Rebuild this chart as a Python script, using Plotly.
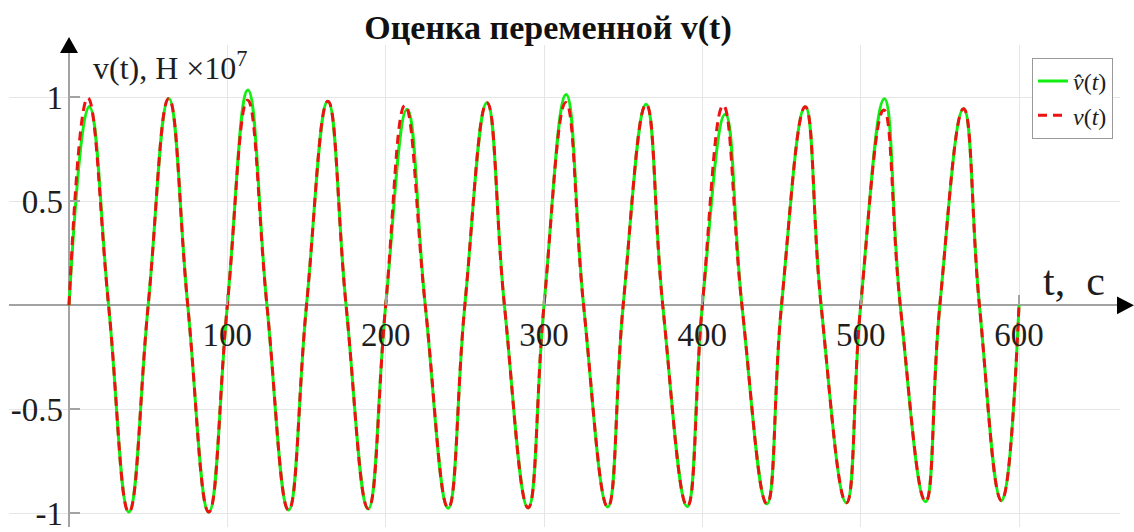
import plotly.graph_objects as go

# ---- data (t in s, v in units of 1e7 N) ----
zero_t = [0, 25, 50, 75, 100, 125, 150, 175, 200, 225, 250, 275, 300,
          325, 350, 375, 400, 425, 450, 475, 500, 525, 550, 575, 600]

peak_t_est = [12.7, 63.0, 113.0, 163.5, 213.5, 264.0, 314.0, 364.5, 414.5, 465.0, 515.0, 565.0]
peak_v_est = [0.957, 0.995, 1.036, 0.982, 0.943, 0.975, 1.014, 0.967, 0.919, 0.955, 0.994, 0.946]

peak_t_true = [11.8, 63.0, 112.8, 163.5, 212.2, 264.0, 313.8, 364.5, 413.2, 465.0, 514.6, 565.0]
peak_v_true = [0.998, 0.995, 0.987, 0.982, 0.962, 0.975, 0.976, 0.967, 0.962, 0.955, 0.940, 0.946]

trough_t = [37.8, 88.3, 138.7, 189.0, 239.5, 290.0, 340.3, 390.5, 440.8, 491.0, 541.0, 589.0]
trough_v_est = [-0.995, -0.995, -0.985, -0.980, -0.976, -0.975, -0.970, -0.968, -0.955, -0.950, -0.945, -0.940]
trough_v_true = [-0.995, -0.995, -0.985, -0.978, -0.975, -0.974, -0.970, -0.967, -0.955, -0.950, -0.944, -0.940]

x_ticks = [100, 200, 300, 400, 500, 600]
y_ticks = [-1, -0.5, 0.5, 1]
y_tick_text = ["-1", "-0.5", "0.5", "1"]


def merge(*pairs):
    pts = []
    for ts, vs in pairs:
        pts.extend(zip(ts, vs))
    pts.sort(key=lambda p: p[0])
    return [p[0] for p in pts], [p[1] for p in pts]


zeros_v = [0.0] * len(zero_t)
t_est, v_est = merge((zero_t, zeros_v), (peak_t_est, peak_v_est), (trough_t, trough_v_est))
t_true, v_true = merge((zero_t, zeros_v), (peak_t_true, peak_v_true), (trough_t, trough_v_true))

# ---- layout geometry (pixels) ----
W, H = 1134, 532
ml, mr, mt, mb = 9, 14, 45, 0
PW, PH = W - ml - mr, H - mt - mb
x0_px, px_per_unit_x = 69, 950 / 600
y0_px, px_per_unit_y = 308, 210
x_range = [(ml - x0_px) / px_per_unit_x, (W - mr - x0_px) / px_per_unit_x]
y_range = [-(H - mb - y0_px) / px_per_unit_y, (y0_px - mt) / px_per_unit_y]
x_pos = (0 - x_range[0]) / (x_range[1] - x_range[0])
y_pos = (0 - y_range[0]) / (y_range[1] - y_range[0])


def px(xp):
    return (xp - ml) / PW


def py(yp):
    return (H - mb - yp) / PH


SERIF = "Liberation Serif, Times New Roman, serif"
AX = "#a3a3a3"
GRID = "#e6e6e6"
TXT = "#1e1e1e"

fig = go.Figure()
fig.add_trace(go.Scatter(
    x=t_est, y=v_est, mode="lines", name="<i>v\u0302</i>(<i>t</i>)",
    line=dict(color="#11ee11", width=3, shape="spline", smoothing=1.3),
))
fig.add_trace(go.Scatter(
    x=t_true, y=v_true, mode="lines", name="<i>v</i>(<i>t</i>)",
    line=dict(color="#ee1111", width=3, dash="9px,6px", shape="spline", smoothing=1.3),
))

fig.update_layout(
    width=W, height=H,
    margin=dict(l=ml, r=mr, t=mt, b=mb),
    paper_bgcolor="white", plot_bgcolor="white",
    font=dict(family=SERIF, color=TXT),
    title=dict(text="<b>Оценка переменной v(t)</b>", font=dict(family=SERIF, size=34, color="#111111"),
               xref="paper", x=px(548), xanchor="center",
               yref="container", y=1 - 27 / H, yanchor="middle"),
    xaxis=dict(range=x_range, tickvals=x_ticks, ticktext=[str(v) for v in x_ticks],
               showgrid=True, gridcolor=GRID, gridwidth=1,
               zeroline=True, zerolinecolor=AX, zerolinewidth=2,
               showline=False, anchor="free", position=y_pos,
               ticks="inside", ticklen=10, tickcolor=AX, tickwidth=1.5,
               tickfont=dict(family=SERIF, size=33, color=TXT),
               ticklabelstandoff=7, ticklabeloverflow="allow", fixedrange=True),
    yaxis=dict(range=y_range, tickvals=y_ticks, ticktext=y_tick_text,
               showgrid=True, gridcolor=GRID, gridwidth=1,
               zeroline=True, zerolinecolor=AX, zerolinewidth=2,
               showline=False, anchor="free", position=x_pos,
               ticks="inside", ticklen=10, tickcolor=AX, tickwidth=1.5,
               tickfont=dict(family=SERIF, size=33, color=TXT),
               ticklabelstandoff=6, ticklabeloverflow="allow", fixedrange=True),
    legend=dict(x=px(1113), xanchor="right",
                y=py(58), yanchor="top",
                bgcolor="white", bordercolor="#999999", borderwidth=1,
                font=dict(family=SERIF, size=24, color=TXT),
                tracegroupgap=0, itemwidth=30),
    showlegend=True,
)

# axis arrowheads (decoration, paper coordinates)
fig.add_shape(type="path", xref="paper", yref="paper",
              path=f"M {px(69)},{py(37)} L {px(60)},{py(53)} L {px(78)},{py(53)} Z",
              fillcolor="black", line=dict(width=0), layer="above")
fig.add_shape(type="path", xref="paper", yref="paper",
              path=f"M {px(1134)},{py(308)} L {px(1117)},{py(299)} L {px(1117)},{py(317)} Z",
              fillcolor="black", line=dict(width=0), layer="above")

# axis titles
fig.add_annotation(x=px(91), y=py(66), xref="paper", yref="paper",
                   text="v(t), Н ×10<sup>7</sup>", showarrow=False, xanchor="left", yanchor="middle",
                   font=dict(family=SERIF, size=32, color=TXT))
fig.add_annotation(x=px(1074), y=py(283), xref="paper", yref="paper",
                   text="t,\u00a0\u00a0с", showarrow=False, xanchor="center", yanchor="middle",
                   font=dict(family=SERIF, size=42, color=TXT))

fig.write_html("out.html")
